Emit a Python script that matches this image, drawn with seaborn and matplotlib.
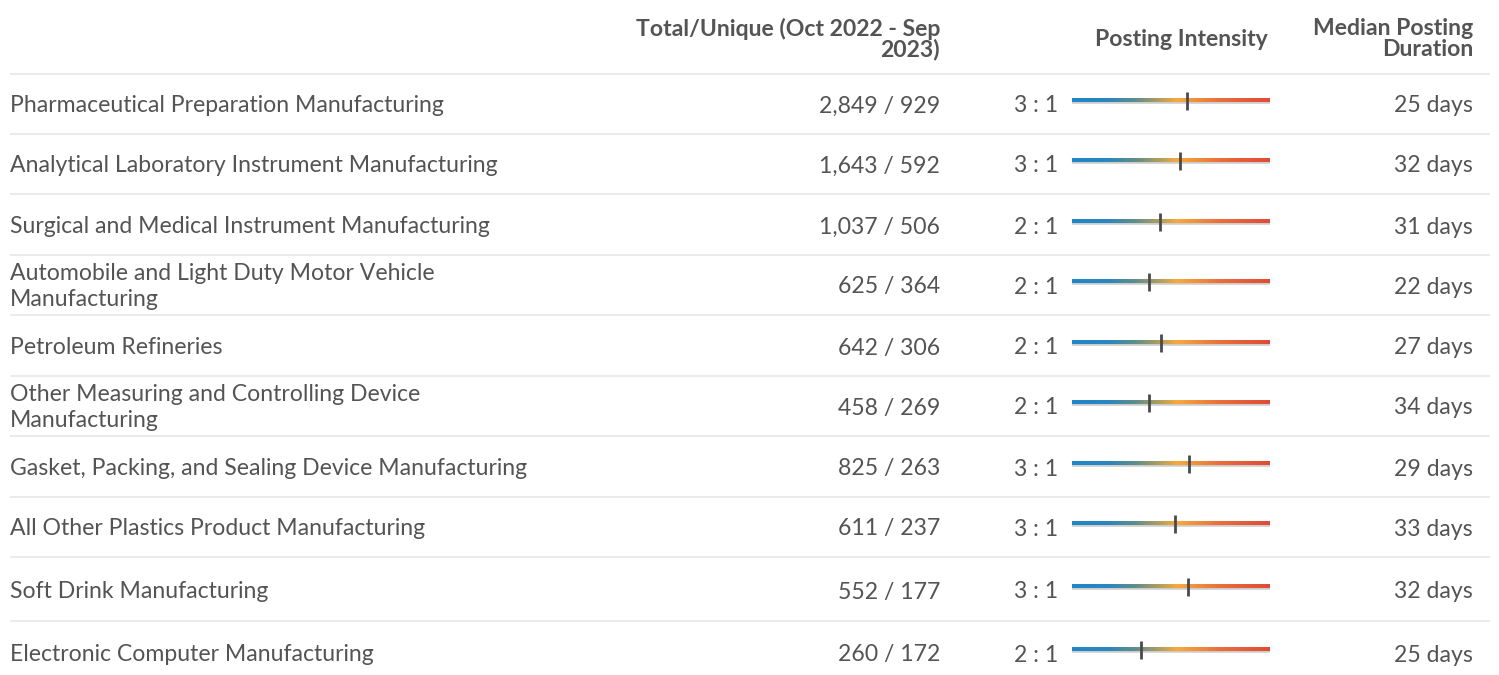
import numpy as np
import matplotlib.pyplot as plt
import seaborn as sns
from matplotlib.colors import LinearSegmentedColormap

industries = [
    "Pharmaceutical Preparation Manufacturing",
    "Analytical Laboratory Instrument Manufacturing",
    "Surgical and Medical Instrument Manufacturing",
    "Automobile and Light Duty Motor Vehicle\nManufacturing",
    "Petroleum Refineries",
    "Other Measuring and Controlling Device\nManufacturing",
    "Gasket, Packing, and Sealing Device Manufacturing",
    "All Other Plastics Product Manufacturing",
    "Soft Drink Manufacturing",
    "Electronic Computer Manufacturing",
]
total_postings = [2849, 1643, 1037, 625, 642, 458, 825, 611, 552, 260]
unique_postings = [929, 592, 506, 364, 306, 269, 263, 237, 177, 172]
intensity_labels = ["3 : 1", "3 : 1", "2 : 1", "2 : 1", "2 : 1", "2 : 1", "3 : 1", "3 : 1", "3 : 1", "2 : 1"]
# marker position along the intensity scale (0 = left end, 1 = right end)
intensity_marker = [0.582, 0.545, 0.444, 0.387, 0.451, 0.389, 0.591, 0.52, 0.587, 0.35]
median_days = [25, 32, 31, 22, 27, 34, 29, 33, 32, 25]

sns.set_theme(style="white")
plt.rcParams["font.family"] = ["Lato", "DejaVu Sans"]

W, H = 1499, 675
TEXT = "#545454"
fig = plt.figure(figsize=(W / 100, H / 100), dpi=100)
ax = fig.add_axes([0, 0, 1, 1])
ax.set_xlim(0, W)
ax.set_ylim(H, 0)
ax.axis("off")

# layout (pixel rows)
row_lines = [74, 134, 194, 255, 315, 376, 436, 497, 557, 621]
row_centers = [106, 166, 227, 287, 348, 408, 469, 529, 592, 655]

# header
hdr = dict(fontsize=16.6, fontweight="bold", color=TEXT, ha="right", va="center", linespacing=0.95)
ax.text(940, 39, "Total/Unique (Oct 2022 - Sep\n2023)", **hdr)
ax.text(1268, 39, "Posting Intensity", **hdr)
ax.text(1473, 39, "Median Posting\nDuration", **hdr)

for y in row_lines:
    ax.plot([10, 1490], [y, y], color="#ebebeb", lw=1.5, solid_capstyle="butt")

cell = dict(fontsize=16.6, color=TEXT, va="center")
for i, y in enumerate(row_centers):
    ax.text(10, y - 0.5, industries[i], ha="left", linespacing=1.32, **cell)
    ax.text(940, y, f"{total_postings[i]:,} / {unique_postings[i]:,}", ha="right", **cell)
    ax.text(1058, y, intensity_labels[i], ha="right", **cell)
    ax.text(1473, y, f"{median_days[i]} days", ha="right", **cell)

# intensity bars
cmap = LinearSegmentedColormap.from_list(
    "intensity",
    [(0.0, "#1f88c8"), (0.18, "#2a86bf"), (0.32, "#5f8e8a"), (0.45, "#b5a05a"),
     (0.53, "#f7aa3b"), (0.75, "#ea6e3b"), (1.0, "#e14a36")],
)
bx = fig.add_axes([1072 / W, 0, 198 / W, 1])
bar_y = [c - 5.5 for c in row_centers]
grad = np.linspace(0, 1, 256).reshape(1, -1)
for y in bar_y:
    bx.plot([0, 1], [y, y], color="#cccccc", lw=4.0, solid_capstyle="butt", zorder=1)
    bx.imshow(grad, extent=[0, 1, y + 1.8, y - 1.8], aspect="auto", cmap=cmap,
              interpolation="bilinear", zorder=2)
sns.scatterplot(x=intensity_marker, y=bar_y, marker="|", s=180, color="#4a4a4a",
                linewidth=2.0, ax=bx, zorder=3, legend=False)
bx.set_xlim(0, 1)
bx.set_ylim(H, 0)
bx.axis("off")

fig.savefig("out.png", dpi=100)
